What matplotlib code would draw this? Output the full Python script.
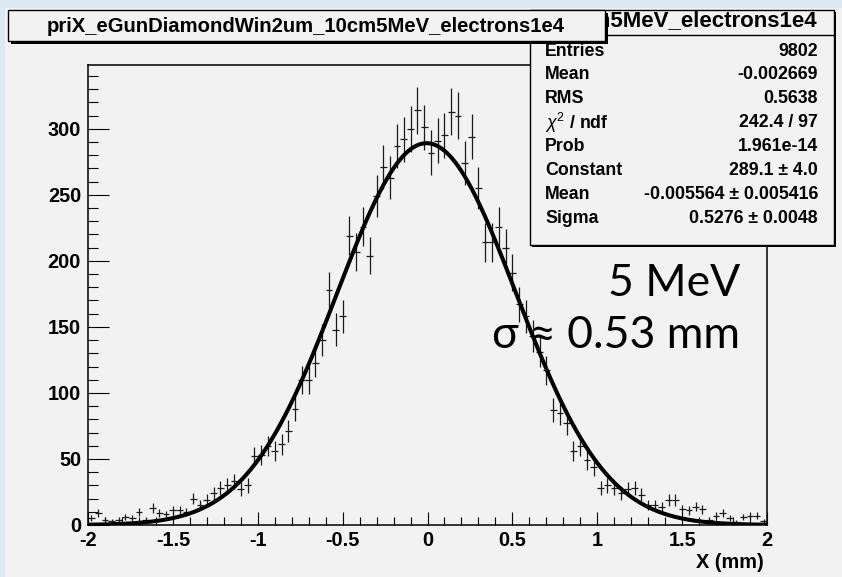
import numpy as np
import matplotlib
matplotlib.use("Agg")
import matplotlib.pyplot as plt
from matplotlib.patches import Rectangle
from matplotlib.ticker import MultipleLocator

# ---- histogram: 100 bins on [-2, 2] mm ----
x_lo, x_hi, n_bins = -2.0, 2.0, 100
counts = [
    5, 9, 4, 3, 4, 6, 5, 10, 4, 13,
    9, 8, 11, 11, 10, 20, 15, 19, 24, 28,
    30, 33, 27, 30, 52, 53, 60, 56, 61, 71,
    88, 110, 110, 123, 140, 178, 148, 158, 219, 207,
    226, 204, 249, 271, 263, 287, 292, 300, 314, 301,
    282, 291, 295, 313, 310, 274, 294, 255, 214, 214,
    226, 210, 191, 167, 158, 143, 131, 117, 87, 85,
    77, 56, 60, 49, 44, 28, 30, 28, 24, 27,
    28, 23, 15, 15, 14, 19, 19, 12, 11, 14,
    12, 4, 7, 9, 5, 2, 6, 7, 7, 3,
]

# ---- gaussian fit parameters ----
fit_constant = 289.1
fit_mean = -0.005564
fit_sigma = 0.5276

hist_name = "priX_eGunDiamondWin2um_10cm5MeV_electrons1e4"
stat_labels = ["Entries", "Mean", "RMS", r"$\chi^{2}$ / ndf", "Prob",
               "Constant", "Mean", "Sigma"]
stat_values = ["9802", "-0.002669", "0.5638", "242.4 / 97", "1.961e-14",
               "289.1 \u00b1 4.0", "-0.005564 \u00b1 0.005416",
               "0.5276 \u00b1 0.0048"]
x_label = "X (mm)"
note_lines = ["5 MeV", "\u03c3 \u2248 0.53 mm"]

W, H = 842, 577
PAD = "#f2f2f2"
OUTER = "#dce9f3"
FONT = ["Liberation Sans", "DejaVu Sans"]

plt.rcParams["font.family"] = FONT
plt.rcParams["mathtext.fontset"] = "custom"
plt.rcParams["mathtext.rm"] = "Liberation Sans"
plt.rcParams["mathtext.it"] = "Liberation Sans:italic"
plt.rcParams["mathtext.bf"] = "Liberation Sans:bold"


def fx(px):
    return px / W


def fy(py):
    return 1.0 - py / H


fig = plt.figure(figsize=(W / 100, H / 100), dpi=100)
fig.patch.set_facecolor(OUTER)
fig.patches.append(Rectangle((fx(5), 0), 1 - fx(5), fy(8), transform=fig.transFigure,
                             facecolor=PAD, edgecolor="none", zorder=-5))

ax = fig.add_axes([fx(88), fy(525), (767 - 88) / W, (525 - 65) / H])
ax.set_facecolor(PAD)

edges = np.linspace(x_lo, x_hi, n_bins + 1)
centers = 0.5 * (edges[:-1] + edges[1:])
vals = np.array(counts, dtype=float)
half_w = 0.5 * (edges[1] - edges[0])
ax.errorbar(centers, vals, yerr=np.sqrt(vals), xerr=half_w, fmt="none",
            ecolor="#1a1a1a", elinewidth=0.9, capsize=0, zorder=2)

xs = np.linspace(x_lo, x_hi, 1000)
ax.plot(xs, fit_constant * np.exp(-0.5 * ((xs - fit_mean) / fit_sigma) ** 2),
        color="black", lw=2.9, zorder=3)

y_top = (max(vals) + np.sqrt(max(vals))) * 1.05
ax.set_xlim(x_lo, x_hi)
ax.set_ylim(0, y_top)

ax.xaxis.set_major_locator(MultipleLocator(0.5))
ax.xaxis.set_minor_locator(MultipleLocator(0.1))
ax.yaxis.set_major_locator(MultipleLocator(50))
ax.yaxis.set_minor_locator(MultipleLocator(10))
ax.xaxis.set_major_formatter(plt.FuncFormatter(lambda v, p: f"{v:g}"))
ax.tick_params(axis="x", which="major", direction="in", length=9.5, width=0.8,
               pad=4, labelsize=14.3, top=False)
ax.tick_params(axis="x", which="minor", direction="in", length=5.6, width=0.8, top=False)
ax.tick_params(axis="y", which="major", direction="in", length=15, width=0.8,
               pad=5, labelsize=14.3, right=False)
ax.tick_params(axis="y", which="minor", direction="in", length=7.2, width=0.8, right=False)
for lab in ax.get_xticklabels() + ax.get_yticklabels():
    lab.set_fontweight("bold")
for sp in ax.spines.values():
    sp.set_linewidth(1.1)
    sp.set_color("black")

fig.text(fx(764), fy(563), x_label, ha="right", va="center",
         fontsize=14.3, fontweight="bold")


def boxed(x0, y0, x1, y1, shadow, z):
    fig.patches.append(Rectangle((fx(x0 + shadow), fy(y1 + shadow)),
                                 (x1 - x0) / W, (y1 - y0) / H,
                                 transform=fig.transFigure, facecolor="black",
                                 edgecolor="none", zorder=z))
    fig.patches.append(Rectangle((fx(x0), fy(y1)), (x1 - x0) / W, (y1 - y0) / H,
                                 transform=fig.transFigure, facecolor=PAD,
                                 edgecolor="black", lw=1.0, zorder=z + 0.1))


# statistics box
boxed(530, 10, 834, 245, 2, 10)
fig.lines.append(plt.Line2D([fx(530), fx(834)], [fy(35), fy(35)],
                            transform=fig.transFigure, color="black", lw=1.0, zorder=10.2))
fig.text(fx(817), fy(22), hist_name, ha="right", va="center", fontsize=16,
         fontweight="bold", zorder=10.3)
for i, (lab, val) in enumerate(zip(stat_labels, stat_values)):
    yy = 51 + 23.9 * i
    fig.text(fx(545), fy(yy), lab, ha="left", va="center", fontsize=12.8,
             fontweight="bold", zorder=10.3)
    fig.text(fx(818), fy(yy), val, ha="right", va="center", fontsize=12.8,
             fontweight="bold", zorder=10.3)

# title box
boxed(8, 10, 605, 41, 3, 20)
fig.text(fx(306), fy(26), hist_name, ha="center", va="center", fontsize=14.6,
         fontweight="bold", zorder=20.3)

# annotation
fig.text(fx(740), fy(283), note_lines[0], ha="right", va="center", fontsize=32,
         family=["Lato", "DejaVu Sans"], zorder=6)
fig.text(fx(740), fy(336), note_lines[1], ha="right", va="center", fontsize=32,
         family=["Lato", "DejaVu Sans"], zorder=6)

fig.savefig("out.png", dpi=100, facecolor=fig.get_facecolor())
